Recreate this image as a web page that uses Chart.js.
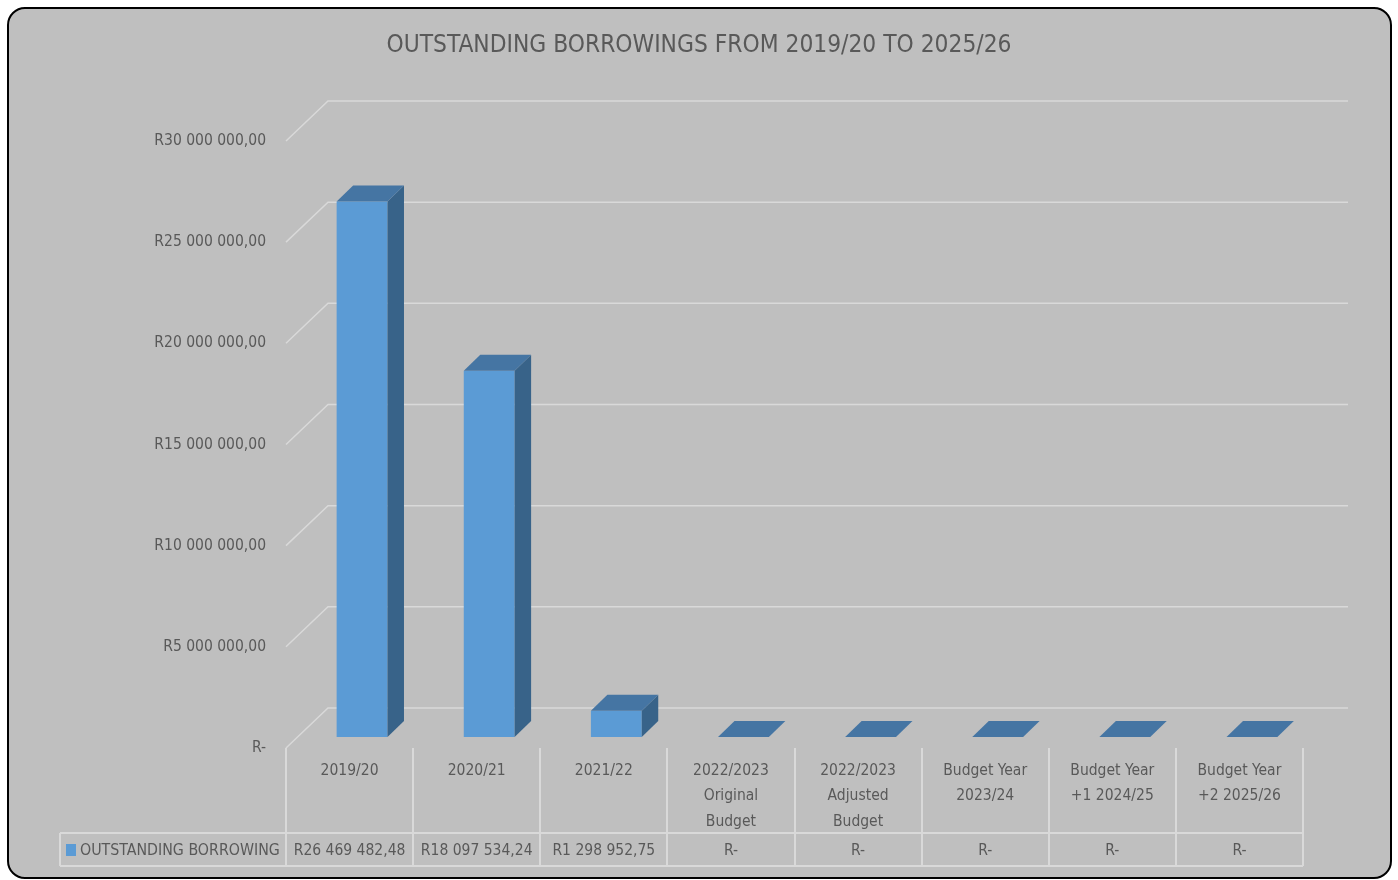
<!DOCTYPE html>
<html>
<head>
<meta charset="utf-8">
<script src="https://cdn.jsdelivr.net/npm/chart.js@4.4.1/dist/chart.umd.min.js"></script>
<style>
  html, body { margin: 0; padding: 0; background: #ffffff; }
  canvas { display: block; }
</style>
</head>
<body>
<canvas id="borrowChart" width="1398" height="880"></canvas>
<script>
// data
var categories = [
  '2019/20', '2020/21', '2021/22',
  ['2022/2023', 'Original', 'Budget'],
  ['2022/2023', 'Adjusted', 'Budget'],
  ['Budget Year', '2023/24'],
  ['Budget Year', '+1 2024/25'],
  ['Budget Year', '+2 2025/26']
];
var borrowing = [26469482.48, 18097534.24, 1298952.75, 0, 0, 0, 0, 0];
var seriesName = 'OUTSTANDING BORROWING';
var yTicks = [0, 5000000, 10000000, 15000000, 20000000, 25000000, 30000000];

var FONT = "'Liberation Sans Narrow', 'DejaVu Sans Condensed', sans-serif";
var TEXT = '#595959';
var GRID = '#d9d9d9';
var FRONT = '#5b9bd5', TOP = '#4575a3', SIDE = '#386389';

// 3d offsets: bar front plane, bar depth, back wall
var BAR_OFF = {x: 12.5, y: -11};
var BAR_DEPTH = {x: 16.5, y: -16};
var WALL = {x: 42, y: -40};

function rand(v) {
  if (!v) return 'R-';
  var parts = v.toFixed(2).split('.');
  return 'R' + parts[0].replace(/\B(?=(\d{3})+(?!\d))/g, ' ') + ',' + parts[1];
}

var frame3d = {
  id: 'frame3d',
  beforeDraw: function(chart) {
    var ctx = chart.ctx;
    ctx.save();
    ctx.beginPath();
    ctx.roundRect(8, 8, 1383, 870, 17);
    ctx.fillStyle = '#bfbfbf';
    ctx.fill();
    ctx.lineWidth = 2;
    ctx.strokeStyle = '#000000';
    ctx.stroke();
    ctx.restore();
  },
  beforeDatasetsDraw: function(chart) {
    var ctx = chart.ctx, a = chart.chartArea, y = chart.scales.y;
    ctx.save();
    ctx.strokeStyle = GRID;
    ctx.lineWidth = 1.5;
    yTicks.forEach(function(t) {
      var py = y.getPixelForValue(t);
      ctx.beginPath();
      ctx.moveTo(a.left, py);
      ctx.lineTo(a.left + WALL.x, py + WALL.y);
      ctx.lineTo(a.right + 45, py + WALL.y);
      ctx.stroke();
    });
    ctx.restore();
    ctx.save();
    ctx.translate(BAR_OFF.x, BAR_OFF.y);
  },
  afterDatasetsDraw: function(chart) {
    var ctx = chart.ctx;
    ctx.restore();
    ctx.save();
    ctx.translate(BAR_OFF.x, BAR_OFF.y);
    chart.getDatasetMeta(0).data.forEach(function(bar) {
      var p = bar.getProps(['x', 'y', 'base', 'width'], true);
      var l = p.x - p.width / 2, r = p.x + p.width / 2;
      var top = Math.min(p.y, p.base), bot = Math.max(p.y, p.base);
      // side
      ctx.beginPath();
      ctx.moveTo(r, top);
      ctx.lineTo(r + BAR_DEPTH.x, top + BAR_DEPTH.y);
      ctx.lineTo(r + BAR_DEPTH.x, bot + BAR_DEPTH.y);
      ctx.lineTo(r, bot);
      ctx.closePath();
      ctx.fillStyle = SIDE;
      ctx.fill();
      // top
      ctx.beginPath();
      ctx.moveTo(l, top);
      ctx.lineTo(l + BAR_DEPTH.x, top + BAR_DEPTH.y);
      ctx.lineTo(r + BAR_DEPTH.x, top + BAR_DEPTH.y);
      ctx.lineTo(r, top);
      ctx.closePath();
      ctx.fillStyle = TOP;
      ctx.fill();
    });
    ctx.restore();
  },
  afterDraw: function(chart) {
    var ctx = chart.ctx, a = chart.chartArea, x = chart.scales.x;
    var n = categories.length;
    var cw = (a.right - a.left) / n;
    var rowTop = 833, rowBot = 866, tableLeft = 60;
    ctx.save();
    ctx.strokeStyle = GRID;
    ctx.lineWidth = 2;
    for (var i = 0; i <= n; i++) {
      var px = Math.round(a.left + i * cw);
      ctx.beginPath();
      ctx.moveTo(px, a.bottom);
      ctx.lineTo(px, rowBot);
      ctx.stroke();
    }
    ctx.beginPath();
    ctx.moveTo(tableLeft, rowTop); ctx.lineTo(a.right, rowTop);
    ctx.moveTo(tableLeft, rowBot); ctx.lineTo(a.right, rowBot);
    ctx.moveTo(tableLeft, rowTop); ctx.lineTo(tableLeft, rowBot);
    ctx.stroke();
    // legend key + series name
    ctx.fillStyle = FRONT;
    ctx.fillRect(66, 844, 10, 12);
    ctx.fillStyle = TEXT;
    ctx.textBaseline = 'middle';
    ctx.textAlign = 'left';
    ctx.font = '15.8px ' + FONT;
    ctx.fillText(seriesName, 80, 851);
    ctx.textAlign = 'center';
    ctx.font = '15.5px ' + FONT;
    borrowing.forEach(function(v, i) {
      ctx.fillText(rand(v), x.getPixelForValue(i), 851);
    });
    ctx.restore();
  }
};

new Chart(document.getElementById('borrowChart'), {
  type: 'bar',
  data: {
    labels: categories,
    datasets: [{
      label: seriesName,
      data: borrowing,
      backgroundColor: FRONT,
      borderWidth: 0,
      categoryPercentage: 1,
      barPercentage: 0.4
    }]
  },
  options: {
    responsive: false,
    animation: false,
    layout: { padding: 0 },
    plugins: {
      legend: { display: false },
      tooltip: { enabled: false },
      title: {
        display: true,
        text: 'OUTSTANDING BORROWINGS FROM 2019/20 TO 2025/26',
        color: TEXT,
        font: { family: FONT, size: 24.3, weight: 'normal', lineHeight: 1.2 },
        padding: { top: 31.4, bottom: 80.4 }
      }
    },
    scales: {
      x: {
        grid: { display: false, drawTicks: false },
        border: { display: false },
        ticks: {
          color: TEXT, autoSkip: false, maxRotation: 0,
          font: { family: FONT, size: 15.5, lineHeight: 1.645 },
          padding: 10
        },
        afterFit: function(s) { s.height = 132; }
      },
      y: {
        min: 0, max: 30000000,
        grid: { display: false, drawTicks: false },
        border: { display: false },
        ticks: {
          stepSize: 5000000, color: TEXT, padding: 20,
          font: { family: FONT, size: 15.5 },
          callback: function(v) { return rand(v); }
        },
        afterFit: function(s) { s.width = 286; }
      },
      // empty right-hand axis that only reserves room for the back wall
      yRight: {
        position: 'right',
        min: 0, max: 30000000,
        grid: { display: false, drawTicks: false },
        border: { display: false },
        ticks: { display: false },
        afterFit: function(s) { s.width = 95; }
      }
    }
  },
  plugins: [frame3d]
});
</script>
</body>
</html>
